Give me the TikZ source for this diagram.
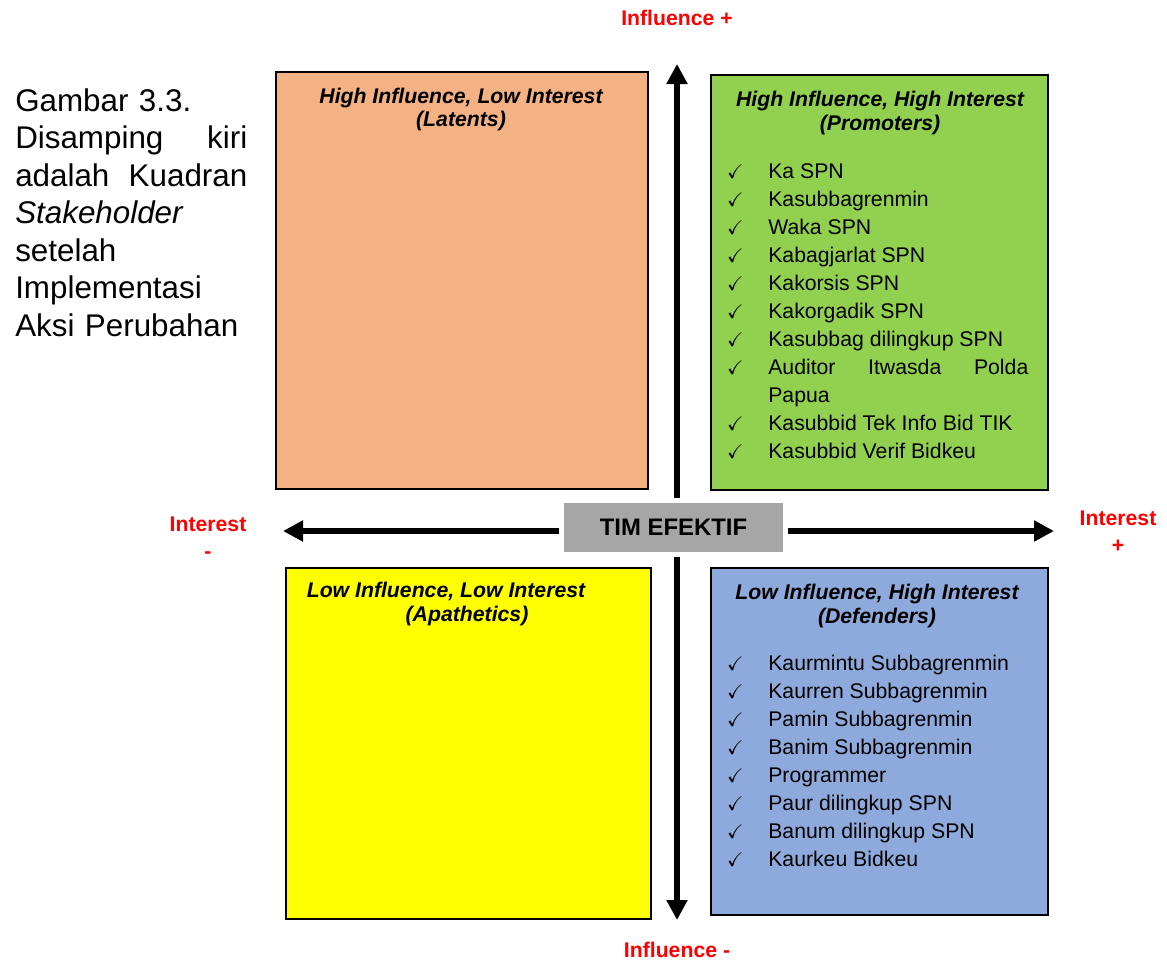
\documentclass[tikz,border=0pt]{standalone}
\usepackage{fontspec}
\setmainfont{Liberation Sans}
\usepackage{amssymb}
\usetikzlibrary{arrows.meta, positioning}
\definecolor{latentorange}{HTML}{F4B183}
\definecolor{promotergreen}{HTML}{92D050}
\definecolor{apathyellow}{HTML}{FFFF00}
\definecolor{defenderblue}{HTML}{8EA9DB}
\definecolor{coregray}{HTML}{A6A6A6}
\definecolor{axisred}{HTML}{FF0000}
\tolerance=9999
\hyphenpenalty=10000
\newcommand{\chkitem}{\par\leavevmode\llap{{\fontsize{14}{14}\selectfont$\checkmark$}\hspace{0.62cm}}}

\begin{document}
\begin{tikzpicture}[
    x=0.025cm, y=-0.025cm,
    quad/.style={rectangle, draw=black, line width=1.2pt, anchor=north west, inner sep=0pt},
    head/.style={font=\fontsize{15.1}{17}\selectfont\bfseries\itshape, align=center, inner sep=0pt},
    members/.style={font=\fontsize{15.1}{19.9}\selectfont, text width=6.5cm, align=justify,
                    anchor=base west, inner sep=0pt},
    axislabel/.style={font=\fontsize{15.1}{19.1}\selectfont\bfseries, text=axisred,
                      align=center, inner sep=0pt},
    axis/.style={{Triangle[length=0.5cm, width=0.5cm]}-{Triangle[length=0.5cm, width=0.5cm]},
                 line width=4.3pt},
    core/.style={rectangle, fill=coregray, draw=white, line width=3.5pt,
                 minimum width=5.6cm, minimum height=1.35cm,
                 font=\fontsize{17}{17}\selectfont\bfseries}
]
    \useasboundingbox (0,0) rectangle (1167,960);

    % Caption on the left
    \node[text width=5.8cm, inner sep=0pt, anchor=base west,
          font=\fontsize{22.3}{26.7}\selectfont] (caption) at (15,111)
        {Gambar 3.3.\\ Disamping\hfill kiri\\ adalah\hfill Kuadran\\ \textit{Stakeholder}\\
         setelah\\ Implementasi\\ Aksi Perubahan};

    % Quadrants
    \node[quad, fill=latentorange, minimum width=9.3cm, minimum height=10.425cm] (latents) at (275,71) {};
    \node[quad, fill=promotergreen, minimum width=8.425cm, minimum height=10.375cm] (promoters) at (710,74) {};
    \node[quad, fill=apathyellow, minimum width=9.125cm, minimum height=8.775cm] (apathetics) at (285,567) {};
    \node[quad, fill=defenderblue, minimum width=8.425cm, minimum height=8.675cm] (defenders) at (710,567) {};

    % Quadrant titles
    \node[head] (latentshead) at (461,109.5) {High Influence, Low Interest\\(Latents)};
    \node[head] (promotershead) at (880,113) {High Influence, High Interest\\(Promoters)};
    \node[head] (apatheticshead) at (446,604) {Low Influence, Low Interest\\\hspace*{1.05cm}(Apathetics)};
    \node[head] (defendershead) at (877,606) {Low Influence, High Interest\\(Defenders)};

    % Members
    \node[members] (promoterlist) at (768,150.7) {%
        \chkitem Ka SPN
        \chkitem Kasubbagrenmin
        \chkitem Waka SPN
        \chkitem Kabagjarlat SPN
        \chkitem Kakorsis SPN
        \chkitem Kakorgadik SPN
        \chkitem Kasubbag dilingkup SPN
        \chkitem Auditor Itwasda Polda Papua
        \chkitem Kasubbid Tek Info Bid TIK
        \chkitem Kasubbid Verif Bidkeu};
    \node[members] (defenderlist) at (768,643) {%
        \chkitem Kaurmintu Subbagrenmin
        \chkitem Kaurren Subbagrenmin
        \chkitem Pamin Subbagrenmin
        \chkitem Banim Subbagrenmin
        \chkitem Programmer
        \chkitem Paur dilingkup SPN
        \chkitem Banum dilingkup SPN
        \chkitem Kaurkeu Bidkeu};

    % Axes
    \coordinate (inftop) at (677,64);
    \coordinate (infbottom) at (677,920);
    \coordinate (intleft) at (283,531);
    \coordinate (intright) at (1054,531);
    \draw[axis] (infbottom) -- (inftop);
    \draw[axis] (intleft) -- (intright);

    \node[core] (team) at (673.5,527.5) {TIM EFEKTIF};

    % Axis labels
    \node[axislabel] (inflplus) at (677,18) {Influence +};
    \node[axislabel] (inflminus) at (677,950) {Influence -};
    \node[axislabel] (intminus) at (208,538) {Interest\\-};
    \node[axislabel] (intplus) at (1118,532) {Interest\\+};
\end{tikzpicture}
\end{document}
